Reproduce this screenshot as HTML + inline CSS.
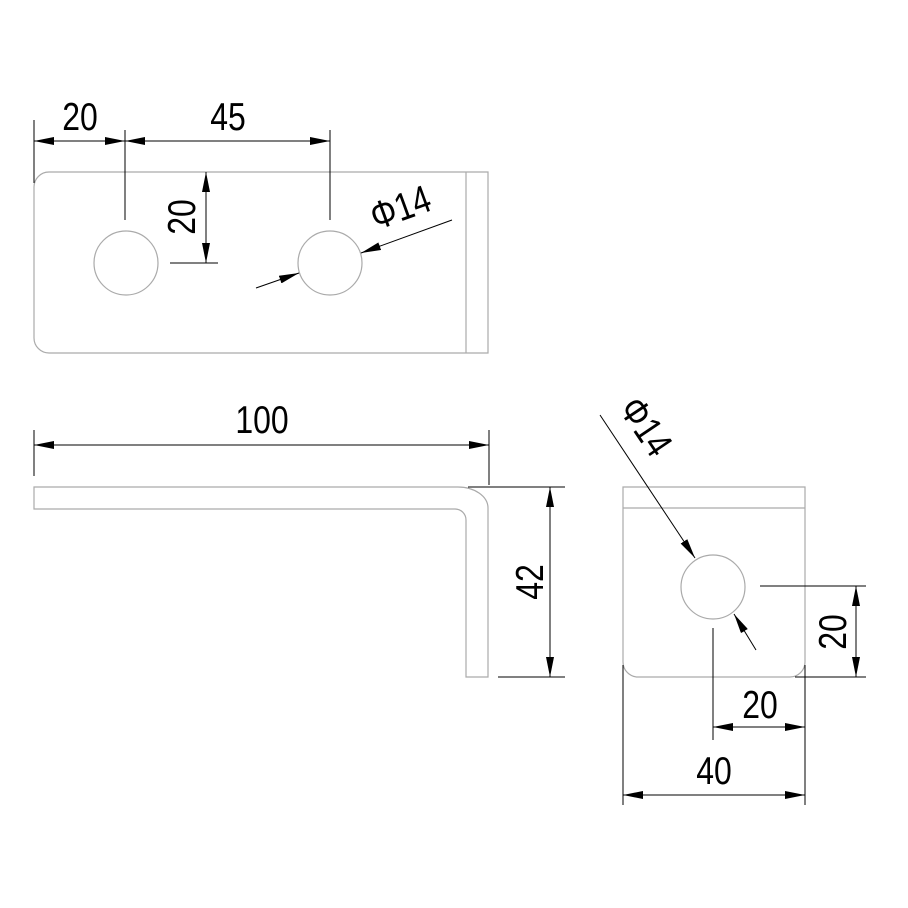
<!DOCTYPE html>
<html><head><meta charset="utf-8"><style>
html,body{margin:0;padding:0;background:#fff;}
svg{display:block;}
text{font-family:"Liberation Sans","DejaVu Sans",sans-serif;font-size:39px;fill:#000;}
</style></head><body>
<svg width="908" height="908" viewBox="0 0 908 908" xmlns="http://www.w3.org/2000/svg">
<defs>
<marker id="a" viewBox="0 0 20 8" refX="20" refY="4" markerWidth="20" markerHeight="8" markerUnits="userSpaceOnUse" orient="auto-start-reverse">
<path d="M0,0 L20,4 L0,8 Z" fill="#000"/>
</marker>
</defs>
<g fill="none" stroke="#aaa" stroke-width="1.2">
<path d="M49,172 H488 V353 H49 A15,15 0 0 1 34,338 V187 A15,15 0 0 1 49,172 Z"/>
<line x1="466" y1="172" x2="466" y2="353"/>
<circle cx="126" cy="263" r="32"/>
<circle cx="330" cy="263" r="32"/>
<path d="M34,487 H458 A30,21 0 0 1 488,508 V677 H466 V520 A11,11 0 0 0 455,509 H34 Z"/>
<path d="M623,487 H805 V662 A15,15 0 0 1 790,677 H638 A15,15 0 0 1 623,662 Z"/>
<line x1="623" y1="508" x2="805" y2="508"/>
<circle cx="713" cy="587" r="32"/>
</g>
<g fill="none" stroke="#000" stroke-width="1">
<line x1="34" y1="120" x2="34" y2="183"/>
<line x1="125" y1="130" x2="125" y2="220"/>
<line x1="330" y1="130" x2="330" y2="220"/>
<line x1="34" y1="141" x2="125" y2="141" marker-start="url(#a)" marker-end="url(#a)"/>
<line x1="125" y1="141" x2="330" y2="141" marker-start="url(#a)" marker-end="url(#a)"/>
<line x1="170" y1="263" x2="218" y2="263"/>
<line x1="206" y1="172" x2="206" y2="263" marker-start="url(#a)" marker-end="url(#a)"/>
<line x1="256" y1="288" x2="299" y2="273" marker-end="url(#a)"/>
<line x1="452" y1="220" x2="361" y2="253" marker-end="url(#a)"/>
<line x1="34" y1="430" x2="34" y2="476"/>
<line x1="489" y1="430" x2="489" y2="485"/>
<line x1="34" y1="445" x2="489" y2="445" marker-start="url(#a)" marker-end="url(#a)"/>
<line x1="468" y1="487" x2="565" y2="487"/>
<line x1="498" y1="677" x2="565" y2="677"/>
<line x1="550" y1="487" x2="550" y2="677" marker-start="url(#a)" marker-end="url(#a)"/>
<line x1="600" y1="415" x2="695" y2="558" marker-end="url(#a)"/>
<line x1="756" y1="650" x2="734" y2="614" marker-end="url(#a)"/>
<line x1="760" y1="586" x2="866" y2="586"/>
<line x1="795" y1="677" x2="866" y2="677"/>
<line x1="856" y1="586" x2="856" y2="677" marker-start="url(#a)" marker-end="url(#a)"/>
<line x1="713" y1="628" x2="713" y2="740"/>
<line x1="623" y1="665" x2="623" y2="805"/>
<line x1="805" y1="665" x2="805" y2="805"/>
<line x1="713" y1="727" x2="805" y2="727" marker-start="url(#a)" marker-end="url(#a)"/>
<line x1="623" y1="795" x2="805" y2="795" marker-start="url(#a)" marker-end="url(#a)"/>
</g>
<text transform="translate(80,130) scale(0.82,1)" text-anchor="middle">20</text>
<text transform="translate(228,130) scale(0.82,1)" text-anchor="middle">45</text>
<text transform="translate(195,217) rotate(-90) scale(0.82,1)" text-anchor="middle">20</text>
<text transform="translate(405,220) rotate(-20) scale(0.82,1)" text-anchor="middle">Φ14</text>
<text transform="translate(262,433) scale(0.82,1)" text-anchor="middle">100</text>
<text transform="translate(543,582) rotate(-90) scale(0.82,1)" text-anchor="middle">42</text>
<text transform="translate(635,434) rotate(56) scale(0.82,1)" text-anchor="middle">Φ14</text>
<text transform="translate(846,632) rotate(-90) scale(0.82,1)" text-anchor="middle">20</text>
<text transform="translate(760,718) scale(0.82,1)" text-anchor="middle">20</text>
<text transform="translate(714,784) scale(0.82,1)" text-anchor="middle">40</text>
</svg>
</body></html>
